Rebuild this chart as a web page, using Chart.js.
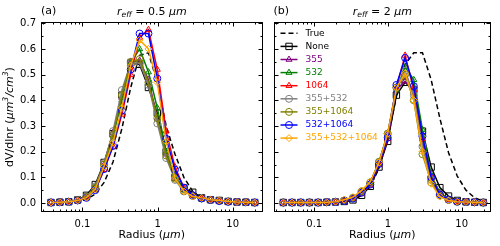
<!DOCTYPE html>
<html>
<head>
<meta charset="utf-8">
<script src="https://cdn.jsdelivr.net/npm/chart.js@4.4.0/dist/chart.umd.min.js"></script>
<style>
  body { margin: 0; background: #fff; }
  #wrap { position: relative; width: 500px; height: 246px; }
  #ca { position: absolute; left: 0; top: 0; }
  #cb { position: absolute; left: 268px; top: 0; }
</style>
</head>
<body>
<div id="wrap">
  <canvas id="ca" width="268" height="246"></canvas>
  <canvas id="cb" width="232" height="246"></canvas>
</div>
<script>
// radius bins (um)
const radius = [0.0381, 0.05, 0.0656, 0.0861, 0.113, 0.148, 0.194, 0.255, 0.335, 0.439, 0.576, 0.756,
                0.992, 1.302, 1.708, 2.241, 2.94, 3.857, 5.061, 6.641, 8.713, 11.43, 15.0, 19.68];

const seriesNames = ['True', 'None', '355', '532', '1064', '355+532', '355+1064', '532+1064', '355+532+1064'];
const seriesColors = ['#000000', '#000000', '#800080', '#008000', '#ff0000', '#808080', '#808000', '#0000ff', '#ffa500'];
const seriesMarkers = [false, 'rect', 'triangle', 'triangle', 'triangle', 'circle', 'circle', 'circle', 'rectRot'];

// panel (a) r_eff = 0.5 um
const trueA   = [0.001,0.002,0.003,0.006,0.014,0.035,0.08,0.16,0.29,0.45,0.575,0.585,0.47,0.30,0.19,0.10,0.045,0.02,0.008,0.003,0.001,0,0,0];
const noneA   = [0.002,0.003,0.005,0.012,0.03,0.072,0.158,0.27,0.42,0.545,0.54,0.45,0.35,0.2,0.1,0.058,0.042,0.02,0.013,0.01,0.006,0.004,0.003,0.002];
const w355A   = [0.002,0.003,0.005,0.011,0.024,0.062,0.15,0.275,0.41,0.55,0.555,0.48,0.33,0.19,0.1,0.05,0.03,0.018,0.012,0.009,0.006,0.004,0.003,0.002];
const w532A   = [0.002,0.003,0.005,0.011,0.023,0.058,0.145,0.26,0.40,0.545,0.60,0.51,0.37,0.2,0.11,0.05,0.028,0.018,0.012,0.008,0.006,0.004,0.003,0.002];
const w1064A  = [0.002,0.003,0.005,0.01,0.021,0.052,0.13,0.22,0.345,0.5,0.645,0.675,0.52,0.28,0.14,0.06,0.03,0.018,0.012,0.008,0.005,0.004,0.003,0.002];
const w355_532A  = [0.002,0.003,0.005,0.012,0.025,0.065,0.155,0.28,0.44,0.545,0.545,0.46,0.31,0.175,0.09,0.045,0.028,0.018,0.012,0.009,0.006,0.004,0.003,0.002];
const w355_1064A = [0.002,0.003,0.005,0.011,0.024,0.06,0.15,0.265,0.42,0.55,0.56,0.47,0.33,0.185,0.095,0.048,0.028,0.018,0.012,0.009,0.006,0.004,0.003,0.002];
const w532_1064A = [0.002,0.003,0.005,0.01,0.02,0.05,0.132,0.222,0.36,0.52,0.66,0.66,0.485,0.25,0.13,0.06,0.03,0.018,0.012,0.008,0.005,0.004,0.003,0.002];
const wAllA   = [0.002,0.003,0.005,0.01,0.021,0.053,0.143,0.235,0.37,0.535,0.635,0.60,0.47,0.24,0.097,0.045,0.026,0.02,0.013,0.01,0.006,0.004,0.003,0.002];

// panel (b) r_eff = 2 um
const trueB   = [0,0,0,0,0,0.001,0.002,0.004,0.012,0.03,0.065,0.135,0.25,0.415,0.54,0.585,0.585,0.48,0.33,0.196,0.105,0.05,0.02,0.008];
const noneB   = [0.002,0.002,0.002,0.002,0.002,0.003,0.004,0.006,0.012,0.03,0.065,0.14,0.24,0.42,0.47,0.44,0.28,0.14,0.06,0.027,0.01,0.005,0.003,0.002];
const w355B   = [0.002,0.002,0.002,0.002,0.002,0.003,0.005,0.01,0.02,0.045,0.08,0.16,0.27,0.44,0.475,0.43,0.23,0.1,0.04,0.015,0.006,0.004,0.003,0.002];
const w532B   = [0.002,0.002,0.002,0.002,0.002,0.003,0.004,0.008,0.018,0.042,0.078,0.155,0.26,0.44,0.53,0.48,0.285,0.11,0.04,0.015,0.006,0.004,0.003,0.002];
const w1064B  = [0.002,0.002,0.002,0.002,0.002,0.003,0.004,0.008,0.016,0.038,0.07,0.15,0.25,0.45,0.575,0.44,0.25,0.1,0.035,0.013,0.005,0.004,0.003,0.002];
const w355_532B  = [0.002,0.002,0.002,0.002,0.002,0.003,0.005,0.01,0.02,0.045,0.08,0.16,0.27,0.45,0.515,0.42,0.22,0.09,0.035,0.013,0.006,0.004,0.003,0.002];
const w355_1064B = [0.002,0.002,0.002,0.002,0.002,0.003,0.005,0.01,0.02,0.045,0.08,0.16,0.27,0.45,0.50,0.40,0.19,0.08,0.03,0.012,0.005,0.004,0.003,0.002];
const w532_1064B = [0.002,0.002,0.002,0.002,0.002,0.003,0.004,0.008,0.017,0.04,0.072,0.152,0.255,0.46,0.565,0.455,0.26,0.1,0.033,0.013,0.005,0.004,0.003,0.002];
const wAllB   = [0.002,0.002,0.002,0.002,0.002,0.003,0.005,0.013,0.023,0.049,0.084,0.158,0.27,0.448,0.505,0.40,0.2,0.075,0.025,0.01,0.005,0.004,0.003,0.002];

const xTickValues = [0.1, 1, 10];
const xTickLabels = ['0.1', '1', '10'];
const yTickValues = [0, 0.1, 0.2, 0.3, 0.4, 0.5, 0.6, 0.7];
const yTickLabels = ['0.0', '0.1', '0.2', '0.3', '0.4', '0.5', '0.6', '0.7'];

const FONT = '"DejaVu Sans", "Liberation Sans", sans-serif';

function makeDatasets(list) {
  return list.map((vals, i) => ({
    label: seriesNames[i],
    data: radius.map((r, k) => ({ x: r, y: vals[k] })),
    borderColor: seriesColors[i],
    backgroundColor: 'rgba(0,0,0,0)',
    borderWidth: 1.5,
    borderDash: i === 0 ? [5, 3] : [],
    pointStyle: seriesMarkers[i] || 'circle',
    pointRadius: seriesMarkers[i] ? (seriesMarkers[i] === 'rect' ? 4.5 : 3.5) : 0,
    pointBorderWidth: 1,
    pointBorderColor: seriesColors[i],
    pointBackgroundColor: 'rgba(0,0,0,0)',
    order: list.length - i
  }));
}

// text with italic / sub / superscript pieces
function richWidth(ctx, segs, size) {
  let w = 0;
  segs.forEach(s => {
    const sz = (s.sub || s.sup) ? size * 0.7 : size;
    ctx.font = (s.i ? 'italic ' : '') + sz + 'px ' + FONT;
    w += ctx.measureText(s.t).width;
  });
  return w;
}
function drawRich(ctx, segs, x, y, size, align) {
  let w = richWidth(ctx, segs, size);
  let cx = align === 'center' ? x - w / 2 : x;
  ctx.textBaseline = 'middle';
  ctx.textAlign = 'left';
  segs.forEach(s => {
    const sz = (s.sub || s.sup) ? size * 0.7 : size;
    ctx.font = (s.i ? 'italic ' : '') + sz + 'px ' + FONT;
    const dy = s.sub ? size * 0.28 : (s.sup ? -size * 0.35 : 0);
    ctx.fillText(s.t, cx, y + dy);
    cx += ctx.measureText(s.t).width;
  });
}

function marker(ctx, style, r, x, y) {
  ctx.fillStyle = 'rgba(0,0,0,0)';
  if (Chart.helpers && Chart.helpers.drawPoint) {
    Chart.helpers.drawPoint(ctx, { pointStyle: style, radius: r, rotation: 0, borderWidth: 1 }, x, y);
    return;
  }
  ctx.beginPath();
  ctx.arc(x, y, r, 0, Math.PI * 2);
  ctx.stroke();
}

// frame, inward ticks, titles
const decor = {
  id: 'decor',
  afterDraw(chart, args, opts) {
    const { ctx, chartArea: a, scales: { x, y } } = chart;
    ctx.save();
    ctx.strokeStyle = '#000';
    ctx.lineWidth = 1;
    const L = Math.round(a.left) + 0.5, R = Math.round(a.right) - 0.5;
    const T = Math.round(a.top) + 0.5, B = Math.round(a.bottom) - 0.5;
    ctx.strokeRect(L, T, R - L, B - T);

    ctx.beginPath();
    // x ticks
    [0.01, 0.1, 1, 10].forEach(d => {
      for (let k = 1; k <= 9; k++) {
        const v = k * d;
        if (v < x.min || v > x.max) continue;
        const len = k === 1 ? 4 : 2;
        const px = Math.round(x.getPixelForValue(v)) + 0.5;
        ctx.moveTo(px, B); ctx.lineTo(px, B - len);
        ctx.moveTo(px, T); ctx.lineTo(px, T + len);
      }
    });
    // y ticks
    for (let i = 0; i <= 14; i++) {
      const v = i * 0.05;
      const len = i % 2 === 0 ? 4 : 2;
      const py = Math.round(y.getPixelForValue(v)) + 0.5;
      ctx.moveTo(L, py); ctx.lineTo(L + len, py);
      ctx.moveTo(R, py); ctx.lineTo(R - len, py);
    }
    ctx.stroke();

    ctx.fillStyle = '#000';
    const cx = (a.left + a.right) / 2;
    // panel letter
    ctx.font = '11px ' + FONT;
    ctx.textAlign = 'left';
    ctx.textBaseline = 'middle';
    ctx.fillText(opts.letter, a.left, 11);
    // panel title
    drawRich(ctx, [{ t: 'r', i: true }, { t: 'eff', i: true, sub: true }, { t: ' = ' + opts.reff + ' ' }, { t: 'μm', i: true }], cx, 12, 11, 'center');
    // x title
    drawRich(ctx, [{ t: 'Radius (' }, { t: 'μm', i: true }, { t: ')' }], cx, 235, 11, 'center');
    // y title
    if (opts.ytitle) {
      ctx.save();
      ctx.translate(10, (a.top + a.bottom) / 2);
      ctx.rotate(-Math.PI / 2);
      drawRich(ctx, [{ t: 'dV/dlnr (' }, { t: 'μm', i: true }, { t: '3', i: true, sup: true },
                     { t: '/cm', i: true }, { t: '3', i: true, sup: true }, { t: ')' }], 0, 0, 11, 'center');
      ctx.restore();
    }
    // legend
    if (opts.legend) {
      chart.data.datasets.forEach((ds, i) => {
        const ry = 33.3 + i * 13.1;
        const x0 = a.left + 7, x1 = a.left + 24;
        ctx.save();
        ctx.strokeStyle = ds.borderColor;
        ctx.lineWidth = 1.5;
        ctx.setLineDash(ds.borderDash);
        ctx.beginPath();
        ctx.moveTo(x0, ry); ctx.lineTo(x1, ry);
        ctx.stroke();
        ctx.setLineDash([]);
        ctx.lineWidth = 1;
        if (ds.pointRadius > 0) marker(ctx, ds.pointStyle, ds.pointRadius, (x0 + x1) / 2, ry);
        ctx.restore();
        ctx.fillStyle = ds.borderColor;
        ctx.font = '9px ' + FONT;
        ctx.textAlign = 'left';
        ctx.textBaseline = 'middle';
        ctx.fillText(ds.label, a.left + 32, ry);
      });
    }
    ctx.restore();
  }
};

function makeChart(id, lists, letter, reff, isLeft) {
  return new Chart(document.getElementById(id), {
    type: 'line',
    data: { datasets: makeDatasets(lists) },
    options: {
      responsive: false,
      animation: false,
      events: [],
      layout: { padding: isLeft ? { left: 0, right: 4, top: 22, bottom: 0 } : { left: 3, right: 9, top: 22, bottom: 0 } },
      scales: {
        x: {
          type: 'logarithmic',
          min: 0.028, max: 25,
          afterBuildTicks: s => { s.ticks = xTickValues.map(v => ({ value: v })); },
          afterFit: s => { s.height = 34; },
          ticks: {
            callback: (v, i) => xTickLabels[i],
            font: { family: FONT, size: 10 }, color: '#000', padding: 6,
            maxRotation: 0, autoSkip: false
          },
          grid: { display: false, drawTicks: false },
          border: { display: false }
        },
        y: {
          display: isLeft,
          min: -0.035, max: 0.705,
          afterBuildTicks: s => { s.ticks = yTickValues.map(v => ({ value: v })); },
          afterFit: s => { s.width = isLeft ? 41 : 0; },
          ticks: {
            callback: (v, i) => yTickLabels[i],
            font: { family: FONT, size: 10 }, color: '#000', padding: 5,
            autoSkip: false
          },
          grid: { display: false, drawTicks: false },
          border: { display: false }
        }
      },
      plugins: {
        legend: { display: false },
        tooltip: { enabled: false },
        decor: { letter: letter, reff: reff, ytitle: isLeft, legend: !isLeft }
      }
    },
    plugins: [decor]
  });
}

makeChart('ca', [trueA, noneA, w355A, w532A, w1064A, w355_532A, w355_1064A, w532_1064A, wAllA], '(a)', '0.5', true);
makeChart('cb', [trueB, noneB, w355B, w532B, w1064B, w355_532B, w355_1064B, w532_1064B, wAllB], '(b)', '2', false);
</script>
</body>
</html>
